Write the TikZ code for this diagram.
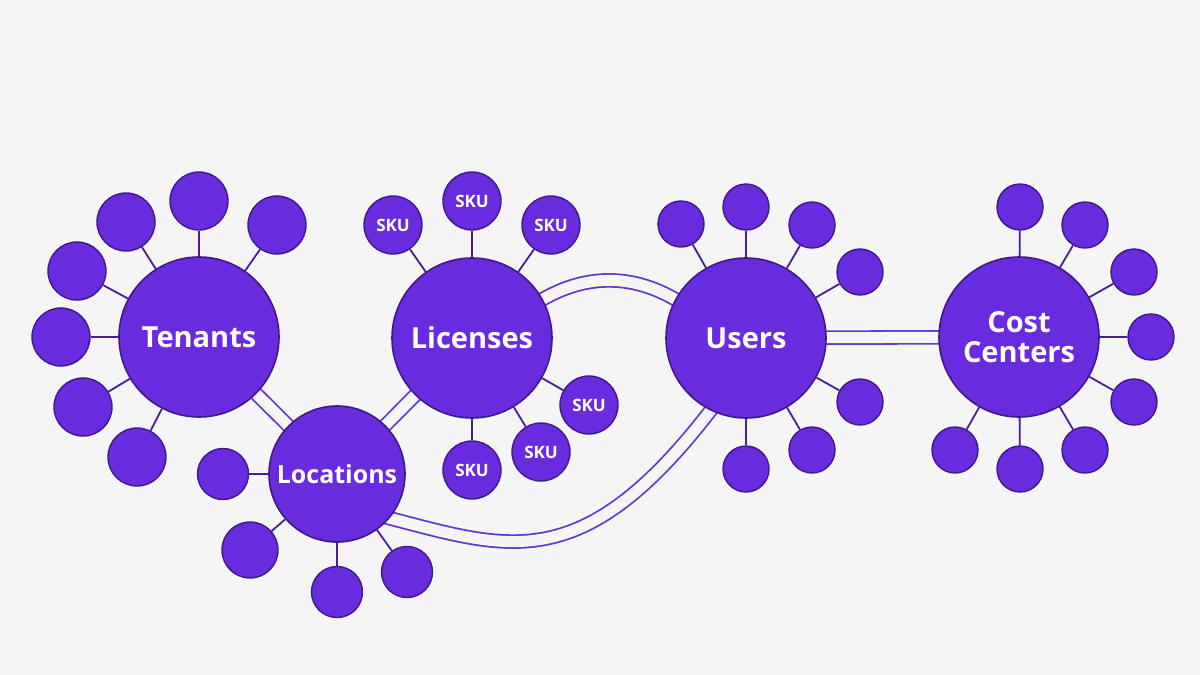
\documentclass[tikz,border=0pt]{standalone}
\usepackage{fontspec}
\setmainfont{Open Sans}
\usetikzlibrary{backgrounds}
\definecolor{pagebg}{RGB}{245,245,245}
\definecolor{hubfill}{RGB}{105,43,222}
\definecolor{hubedge}{RGB}{62,24,140}
\definecolor{spokecol}{RGB}{70,32,150}
\definecolor{bondcol}{RGB}{100,55,205}
\begin{document}
\begin{tikzpicture}[x=0.5pt, y=0.5pt,
  hub/.style={circle, draw=hubedge, line width=0.8pt, fill=hubfill, text=white, inner sep=0pt, minimum size=80pt, align=center, font=\fontsize{14.5}{15}\selectfont\bfseries},
  leaf/.style={circle, draw=hubedge, line width=0.7pt, fill=hubfill, inner sep=0pt, minimum size=29pt},
  minor/.style={leaf, minimum size=23pt},
  sku/.style={leaf, text=white, font=\fontsize{8.5}{9}\selectfont\bfseries},
  spoke/.style={draw=spokecol, line width=0.9pt},
  bond/.style={draw=bondcol, line width=0.9pt, double=pagebg, double distance=5.5pt, shorten <=-6pt, shorten >=-6pt}]
% hubs
\node[hub] (ten) at (199,-337) {Tenants};
\node[hub] (lic) at (472,-338) {Licenses};
\node[hub] (usr) at (746,-338) {Users};
\node[hub] (cc) at (1019,-337) {Cost\\Centers};
\node[hub, minimum size=68pt, font=\fontsize{12.5}{13}\selectfont\bfseries] (loc) at (337,-474) {Locations};
% tenants
\node[leaf] (t1) at (199,-201) {};
\node[leaf] (t2) at (277,-225) {};
\node[leaf] (t3) at (126,-222) {};
\node[leaf] (t4) at (77,-271) {};
\node[leaf] (t5) at (61,-337) {};
\node[leaf] (t6) at (83,-407) {};
\node[leaf] (t7) at (137,-457) {};
% locations
\node[leaf, minimum size=25.5pt] (l1) at (223,-474) {};
\node[leaf, minimum size=28pt] (l2) at (250,-550) {};
\node[leaf, minimum size=25.5pt] (l3) at (337,-592) {};
\node[leaf, minimum size=25.5pt] (l4) at (407,-572) {};
% licenses
\node[sku] (s1) at (393,-225) {SKU};
\node[sku] (s2) at (472,-201) {SKU};
\node[sku] (s3) at (551,-225) {SKU};
\node[sku] (s4) at (589,-405) {SKU};
\node[sku] (s5) at (541,-452) {SKU};
\node[sku] (s6) at (472,-470) {SKU};
% users
\node[minor] (u1) at (746,-207) {};
\node[minor] (u2) at (681,-224) {};
\node[minor] (u3) at (812,-225) {};
\node[minor] (u4) at (860,-272) {};
\node[minor] (u5) at (860,-402) {};
\node[minor] (u6) at (812,-450) {};
\node[minor] (u7) at (746,-469) {};
% cost centers
\node[minor] (c1) at (1020,-207) {};
\node[minor] (c2) at (1085,-225) {};
\node[minor] (c3) at (1134,-272) {};
\node[minor] (c4) at (1151,-337) {};
\node[minor] (c5) at (1134,-402) {};
\node[minor] (c6) at (1085,-450) {};
\node[minor] (c7) at (1020,-469) {};
\node[minor] (c8) at (955,-450) {};
% spokes
\draw[spoke] (ten) -- (t1);
\draw[spoke] (ten) -- (t2);
\draw[spoke] (ten) -- (t3);
\draw[spoke] (ten) -- (t4);
\draw[spoke] (ten) -- (t5);
\draw[spoke] (ten) -- (t6);
\draw[spoke] (ten) -- (t7);
\draw[spoke] (loc) -- (l1);
\draw[spoke] (loc) -- (l2);
\draw[spoke] (loc) -- (l3);
\draw[spoke] (loc) -- (l4);
\draw[spoke] (lic) -- (s1);
\draw[spoke] (lic) -- (s2);
\draw[spoke] (lic) -- (s3);
\draw[spoke] (lic) -- (s4);
\draw[spoke] (lic) -- (s5);
\draw[spoke] (lic) -- (s6);
\draw[spoke] (usr) -- (u1);
\draw[spoke] (usr) -- (u2);
\draw[spoke] (usr) -- (u3);
\draw[spoke] (usr) -- (u4);
\draw[spoke] (usr) -- (u5);
\draw[spoke] (usr) -- (u6);
\draw[spoke] (usr) -- (u7);
\draw[spoke] (cc) -- (c1);
\draw[spoke] (cc) -- (c2);
\draw[spoke] (cc) -- (c3);
\draw[spoke] (cc) -- (c4);
\draw[spoke] (cc) -- (c5);
\draw[spoke] (cc) -- (c6);
\draw[spoke] (cc) -- (c7);
\draw[spoke] (cc) -- (c8);
% double links behind the hubs
\begin{scope}[on background layer]
\fill[pagebg] (0,0) rectangle (1200,-675);
\draw[bond] (ten) -- (loc);
\draw[bond] (lic) -- (loc);
\draw[bond] (usr) -- (cc);
\draw[bond] (lic.29) .. controls (583,-272) and (635,-272) .. (usr.151);
\draw[bond] (loc.-40) .. controls (507,-548) and (581,-583) .. (usr.244);
\end{scope}
\end{tikzpicture}
\end{document}
